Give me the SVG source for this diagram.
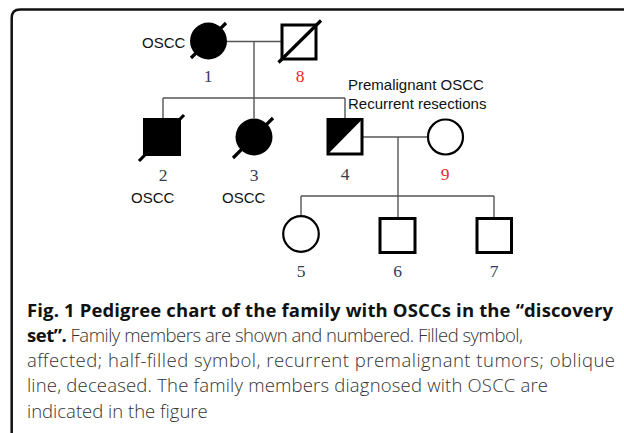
<svg xmlns="http://www.w3.org/2000/svg" width="624" height="433" viewBox="0 0 624 433">
<style>
.frame{fill:none;stroke:#111;stroke-width:2.5}
.con{stroke:#555;stroke-width:1.4;fill:none}
.filled{fill:#000}
.sq{fill:#fff;stroke:#000;stroke-width:3}
.ci{fill:#fff;stroke:#000;stroke-width:2.2}
.slash{stroke:#000;stroke-width:3.2;stroke-linecap:butt}
.lab{font-family:"Liberation Sans",Arial,sans-serif;font-size:15px;fill:#111}
.num{font-family:"Liberation Serif","Times New Roman",serif;font-size:17.5px;fill:#333d52;text-anchor:middle}
.red{fill:#ee2a2a}
.cap{font-family:"Open Sans","Noto Sans",sans-serif;font-size:18.5px;font-weight:300;fill:#333}
.b{font-weight:bold;fill:#111}
</style>
<rect width="624" height="433" fill="#fff"/>
<path class="frame" d="M11.7,433 L11.7,18 Q11.7,9.5 20,9.5 L624,9.5"/>
<g id="connectors">
<line class="con" x1="226" y1="41.5" x2="281" y2="41.5"/>
<line class="con" x1="254" y1="41.5" x2="254" y2="118"/>
<line class="con" x1="163" y1="98" x2="345" y2="98"/>
<line class="con" x1="163" y1="98" x2="163" y2="118"/>
<line class="con" x1="345" y1="98" x2="345" y2="118"/>
<line class="con" x1="363" y1="137" x2="427" y2="137"/>
<line class="con" x1="398" y1="137" x2="398" y2="196"/>
<line class="con" x1="301" y1="196" x2="494" y2="196"/>
<line class="con" x1="301" y1="196" x2="301" y2="216"/>
<line class="con" x1="398" y1="196" x2="398" y2="217"/>
<line class="con" x1="494" y1="196" x2="494" y2="217"/>
</g>
<g id="node1">
<circle class="filled" cx="208.5" cy="41" r="18.5"/>
<line class="slash" x1="191" y1="58" x2="226" y2="23"/>
<text class="lab" x="142" y="48">OSCC</text>
<text class="num" x="208" y="82">1</text>
</g>
<g id="node8">
<rect class="sq" x="282" y="25" width="34" height="34"/>
<line class="slash" x1="278.5" y1="62.5" x2="321" y2="20.5"/>
<text class="num red" x="300" y="82">8</text>
</g>
<g id="node2">
<rect class="filled" x="143" y="118" width="38" height="38"/>
<line class="slash" x1="139" y1="161" x2="184" y2="115"/>
<text class="num" x="163" y="181">2</text>
<text class="lab" x="131" y="203">OSCC</text>
</g>
<g id="node3">
<circle class="filled" cx="254" cy="137" r="18.5"/>
<line class="slash" x1="233" y1="158" x2="273" y2="118"/>
<text class="num" x="254" y="181">3</text>
<text class="lab" x="222" y="203">OSCC</text>
</g>
<g id="node4">
<rect class="sq" x="328" y="119.5" width="34" height="34.5"/>
<polygon class="filled" points="328,119.5 362,119.5 328,154"/>
<text class="num" x="345" y="180">4</text>
<text class="lab" x="348" y="90">Premalignant OSCC</text>
<text class="lab" x="348" y="109">Recurrent resections</text>
</g>
<g id="node9">
<circle class="ci" cx="445.5" cy="137" r="17.5"/>
<text class="num red" x="445" y="180">9</text>
</g>
<g id="node5">
<circle class="ci" cx="301" cy="234" r="17.8"/>
<text class="num" x="301" y="277">5</text>
</g>
<g id="node6">
<rect class="sq" x="380" y="218.5" width="35" height="34"/>
<text class="num" x="397.5" y="277">6</text>
</g>
<g id="node7">
<rect class="sq" x="477" y="218.5" width="34.5" height="34"/>
<text class="num" x="494" y="277">7</text>
</g>
<g id="caption">
<text class="cap b" x="27" y="317" textLength="586" lengthAdjust="spacing">Fig. 1 Pedigree chart of the family with OSCCs in the “discovery</text>
<text class="cap" x="27" y="342" textLength="496" lengthAdjust="spacing"><tspan class="b">set”.</tspan> Family members are shown and numbered. Filled symbol,</text>
<text class="cap" x="27" y="367" textLength="588" lengthAdjust="spacing">affected; half-filled symbol, recurrent premalignant tumors; oblique</text>
<text class="cap" x="27" y="392" textLength="521" lengthAdjust="spacing">line, deceased. The family members diagnosed with OSCC are</text>
<text class="cap" x="27" y="418">indicated in the figure</text>
</g>
</svg>
